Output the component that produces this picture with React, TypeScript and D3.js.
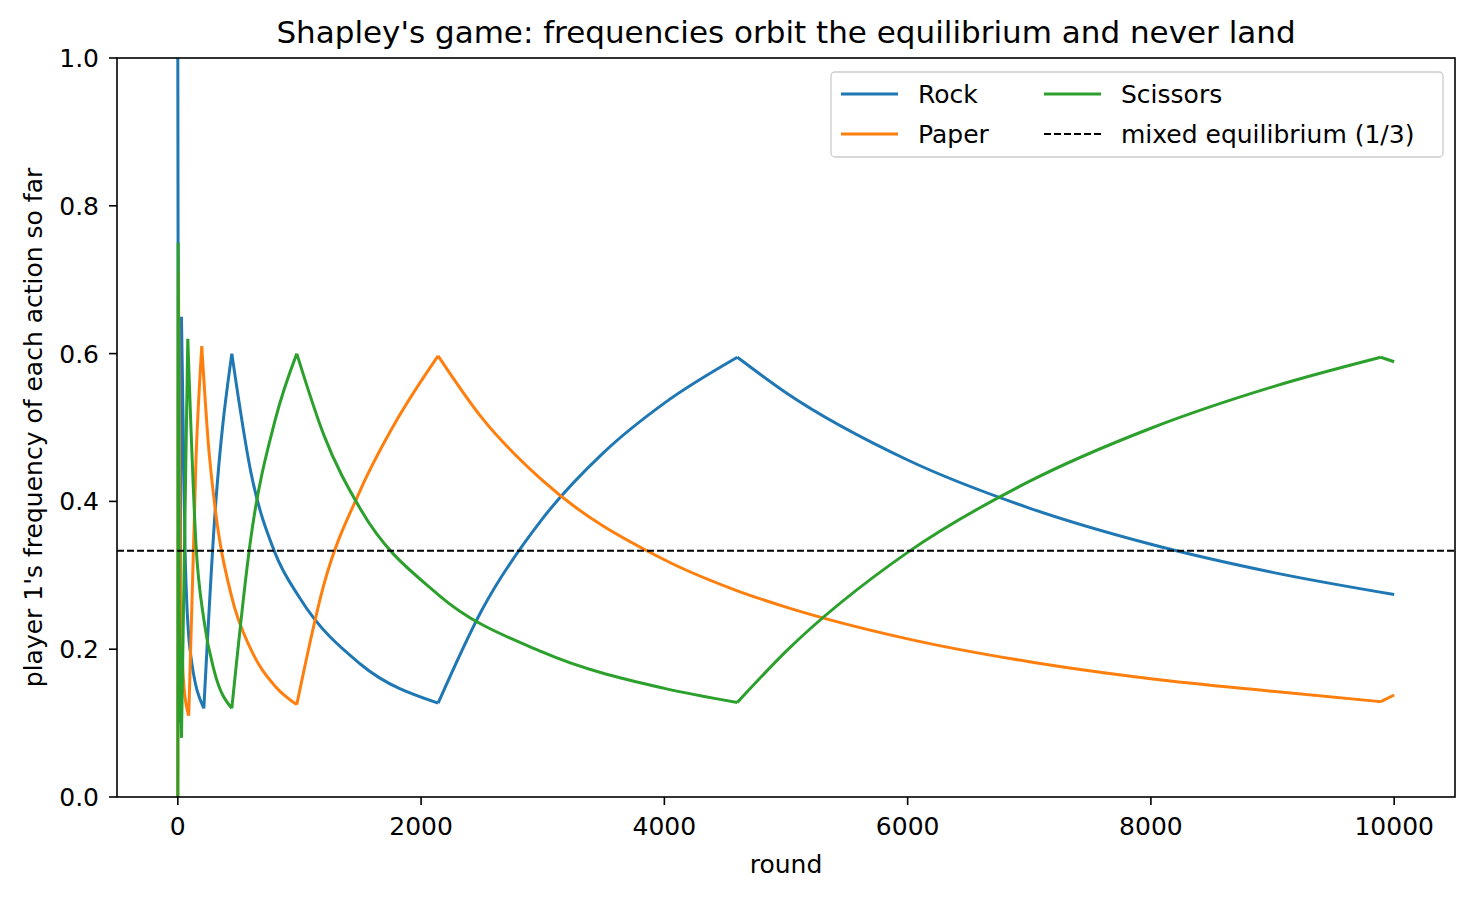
import * as d3 from 'd3';

// values: [round, frequency]
const rock: [number, number][] = [
  [0, 1.0], [5, 0.4], [15, 0.1], [30, 0.65], [60, 0.33], [100, 0.2], [214, 0.12],
  [300, 0.37], [444, 0.6], [600, 0.44], [800, 0.33], [1000, 0.27], [1500, 0.18],
  [2140, 0.127], [2500, 0.253], [3000, 0.377], [3500, 0.466], [4000, 0.533],
  [4600, 0.595], [5000, 0.547], [6000, 0.456], [7000, 0.391], [8000, 0.342],
  [9000, 0.304], [10000, 0.274],
];
const paper: [number, number][] = [
  [0, 0.0], [2, 0.5], [5, 0.71], [20, 0.3], [50, 0.15], [90, 0.11], [150, 0.46],
  [197, 0.61], [250, 0.48], [300, 0.4], [444, 0.27], [600, 0.2], [800, 0.15],
  [978, 0.125], [1200, 0.287], [1500, 0.415], [1800, 0.51], [2140, 0.597],
  [2500, 0.513], [3000, 0.428], [4000, 0.321], [4600, 0.279], [5000, 0.257],
  [6000, 0.214], [7000, 0.183], [8000, 0.16], [9000, 0.143], [9890, 0.129],
  [10000, 0.138],
];
const scissors: [number, number][] = [
  [0, 0.0], [3, 0.75], [10, 0.3], [30, 0.08], [82, 0.62], [150, 0.34], [214, 0.24],
  [300, 0.17], [444, 0.12], [600, 0.35], [800, 0.51], [978, 0.6], [1200, 0.49],
  [1500, 0.39], [2140, 0.274], [3000, 0.196], [4000, 0.147], [4600, 0.128],
  [5000, 0.197], [6000, 0.331], [7000, 0.427], [8000, 0.499], [9000, 0.555],
  [9890, 0.595], [10000, 0.589],
];
const series = [
  { name: 'Rock', data: rock, color: '#1f77b4' },
  { name: 'Paper', data: paper, color: '#ff7f0e' },
  { name: 'Scissors', data: scissors, color: '#2ca02c' },
];
const xTicks = [0, 2000, 4000, 6000, 8000, 10000];
const yTicks = [0, 0.2, 0.4, 0.6, 0.8, 1.0];

// split a series at its turning points so the corners stay sharp
function pieces(data: [number, number][]) {
  const out: [number, number][][] = [];
  let cur: [number, number][] = [data[0]];
  for (let i = 1; i < data.length; i++) {
    cur.push(data[i]);
    if (i < data.length - 1) {
      const a = data[i][1] - data[i - 1][1];
      const b = data[i + 1][1] - data[i][1];
      if (a * b < 0) {
        out.push(cur);
        cur = [data[i]];
      }
    }
  }
  out.push(cur);
  return out;
}

export default function App() {
  const W = 1475, H = 898;
  const L = 117, R = 1455, T = 58, B = 797;
  const x = d3.scaleLinear().domain([-500, 10500]).range([L, R]);
  const y = d3.scaleLinear().domain([0, 1]).range([B, T]);
  const line = d3.line<[number, number]>()
    .x((d) => x(d[0]))
    .y((d) => y(d[1]))
    .curve(d3.curveMonotoneX);
  const font = 'DejaVu Sans, sans-serif';
  const fs = 25;

  return (
    <svg width={W} height={H} style={{ position: 'absolute', left: 0, top: 0 }} fontFamily={font}>
      <rect width={W} height={H} fill='white' />
      <defs>
        <clipPath id='plot'><rect x={L} y={T} width={R - L} height={B - T} /></clipPath>
      </defs>
      <g clipPath='url(#plot)'>
        {series.map((s) => (
          <path
            key={s.name}
            d={pieces(s.data).map((p) => line(p) ?? '').join('')}
            fill='none'
            stroke={s.color}
            strokeWidth={3}
            strokeLinejoin='round'
          />
        ))}
        <line x1={L} x2={R} y1={y(1 / 3)} y2={y(1 / 3)} stroke='black' strokeWidth={2} strokeDasharray='7,3' />
      </g>
      <rect x={L} y={T} width={R - L} height={B - T} fill='none' stroke='black' strokeWidth={1.6} />
      {xTicks.map((t) => (
        <g key={t} transform={`translate(${x(t)},${B})`}>
          <line y2={8} stroke='black' strokeWidth={1.6} />
          <text y={38} textAnchor='middle' fontSize={fs}>{t}</text>
        </g>
      ))}
      {yTicks.map((t) => (
        <g key={t} transform={`translate(${L},${y(t)})`}>
          <line x2={-8} stroke='black' strokeWidth={1.6} />
          <text x={-18} dy='0.36em' textAnchor='end' fontSize={fs}>{t.toFixed(1)}</text>
        </g>
      ))}
      <text x={(L + R) / 2} y={873} textAnchor='middle' fontSize={fs}>round</text>
      <text transform={`translate(42,${(T + B) / 2}) rotate(-90)`} textAnchor='middle' fontSize={fs}>
        player 1's frequency of each action so far
      </text>
      <text x={(L + R) / 2} y={43} textAnchor='middle' fontSize={31}>
        Shapley's game: frequencies orbit the equilibrium and never land
      </text>
      <g transform='translate(831,72)'>
        <rect width={612} height={85} rx={4} fill='white' fillOpacity={0.8} stroke='#ccc' strokeWidth={1.3} />
        {[
          { name: 'Rock', color: '#1f77b4', dash: '', cx: 10, cy: 22 },
          { name: 'Paper', color: '#ff7f0e', dash: '', cx: 10, cy: 62 },
          { name: 'Scissors', color: '#2ca02c', dash: '', cx: 213, cy: 22 },
          { name: 'mixed equilibrium (1/3)', color: 'black', dash: '7,3', cx: 213, cy: 62 },
        ].map((e) => (
          <g key={e.name} transform={`translate(${e.cx},${e.cy})`}>
            <line x1={0} x2={57} stroke={e.color} strokeWidth={e.dash ? 2 : 3} strokeDasharray={e.dash} />
            <text x={77} dy='0.36em' fontSize={fs}>{e.name}</text>
          </g>
        ))}
      </g>
    </svg>
  );
}
